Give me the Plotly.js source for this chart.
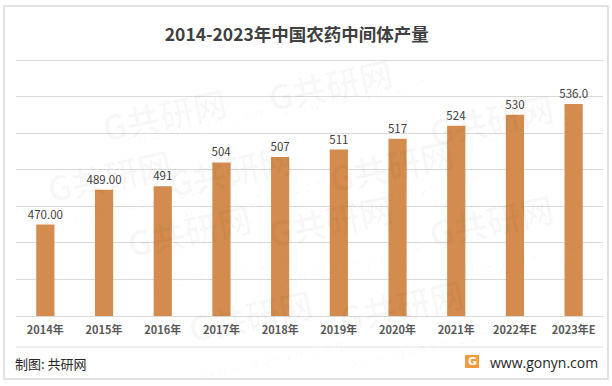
<!DOCTYPE html>
<html><head><meta charset="utf-8">
<script src="https://cdn.plot.ly/plotly-3.0.1.min.js"></script>
<style>html,body{margin:0;padding:0;background:#fff}#chart{width:612px;height:386px}</style>
</head><body><div id="chart"></div>
<script>
const categories = ["2014年","2015年","2016年","2017年","2018年","2019年","2020年","2021年","2022年E","2023年E"];
const values = [470, 489, 491, 504, 507, 511, 517, 524, 530, 536];
const valueLabels = ["470.00","489.00","491","504","507","511","517","524","530","536.0"];

const CJK = '"Noto Sans CJK SC", "Microsoft YaHei", sans-serif';
const L = 16, R = 603, T = 60, B = 316;
const px = x => (x - L) / (R - L);
const py = y => (B - y) / (B - T);

const wm = [];
const wmPos = [[95,75],[330,45],[560,80],[40,175],[230,170],[460,165],[120,270],[330,260],[560,260],[250,355],[470,345]];
wmPos.forEach(p => {
  wm.push({xref:'paper',yref:'paper',x:px(p[0]),y:py(p[1]),text:'<b>G共研网</b>',showarrow:false,
    font:{family:CJK,size:34,color:'rgba(0,0,0,0.028)'},textangle:-12});
  wm.push({xref:'paper',yref:'paper',x:px(p[0]+25),y:py(p[1]+28),text:'w w w . g o n y n . c o m',showarrow:false,
    font:{family:'DejaVu Sans',size:12,color:'rgba(0,0,0,0.035)'},textangle:-12});
});

const trace = {
  type:'bar', x:categories, y:values, text:valueLabels, textposition:'outside',
  texttemplate:'%{text}', cliponaxis:false, constraintext:'none',
  textfont:{family:CJK,size:11.5,color:'#404040'},
  marker:{color:'#d38c4e'}, hoverinfo:'none'
};

const layout = {
  width:612, height:386,
  margin:{l:L, r:612-R, t:T, b:386-B},
  paper_bgcolor:'#fff', plot_bgcolor:'#fff',
  bargap:0.69, showlegend:false,
  title:{text:'<b>2014-2023年中国农药中间体产量</b>', x:0.485, xanchor:'center', y:1-35/386, yanchor:'middle',
    font:{family:CJK,size:17.5,color:'#404040'}},
  xaxis:{type:'category', showline:true, linecolor:'#d9d9d9', linewidth:1, ticks:'',
    tickfont:{family:CJK,size:11,color:'#595959',weight:'bold'}, ticklabelstandoff:4, fixedrange:true},
  yaxis:{range:[420,560], dtick:20, showticklabels:false, showgrid:true, gridcolor:'#d9d9d9', gridwidth:1,
    zeroline:false, showline:false, fixedrange:true},
  shapes:[
    {type:'line',xref:'paper',yref:'paper',x0:0,x1:1,y0:py(60.5),y1:py(60.5),line:{color:'#d9d9d9',width:1}},
    {type:'rect',xref:'paper',yref:'paper',x0:px(4),x1:px(608),y0:py(379),y1:py(6),line:{color:'#d9d9d9',width:1.5},fillcolor:'rgba(0,0,0,0)'},
    {type:'line',xref:'paper',yref:'paper',x0:0,x1:1,y0:py(347),y1:py(347),line:{color:'#e0e0e0',width:1}},
    {type:'rect',xref:'paper',yref:'paper',x0:px(465),x1:px(479),y0:py(368),y1:py(355),line:{width:0},fillcolor:'#f39a3c'}
  ],
  annotations: wm.concat([
    {xref:'paper',yref:'paper',x:px(13),y:py(363),xanchor:'left',yanchor:'middle',text:'制图: 共研网',showarrow:false,
      font:{family:CJK,size:13,color:'#262626'}},
    {xref:'paper',yref:'paper',x:px(600),y:py(362),xanchor:'right',yanchor:'middle',text:'www.gonyn.com',showarrow:false,
      font:{family:'"Open Sans", "DejaVu Sans", sans-serif',size:14,color:'#262626'}},
    {xref:'paper',yref:'paper',x:px(472),y:py(361.5),xanchor:'center',yanchor:'middle',text:'<b>G</b>',showarrow:false,
      font:{family:'DejaVu Sans',size:11,color:'#ffffff'}}
  ])
};

Plotly.newPlot('chart',[trace],layout,{displayModeBar:false,staticPlot:true});
</script></body></html>
